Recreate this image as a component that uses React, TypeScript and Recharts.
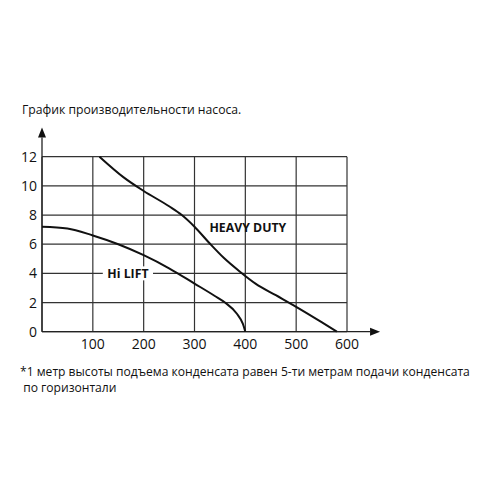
import React from "react";
import {
  ComposedChart,
  Line,
  XAxis,
  YAxis,
  CartesianGrid,
  ReferenceLine,
  ReferenceDot,
} from "recharts";

const flowTicks = [100, 200, 300, 400, 500, 600];
const headTicks = [0, 2, 4, 6, 8, 10, 12];

const hiLiftFlow = [0, 50, 100, 150, 200, 250, 300, 340, 360, 383, 395, 400];
const hiLiftHead = [7.2, 7.08, 6.6, 6.0, 5.25, 4.35, 3.3, 2.45, 2.0, 1.25, 0.55, 0];

const heavyFlow = [113, 160, 200, 250, 275, 300, 330, 358, 390, 420, 460, 500, 550, 580];
const heavyHead = [12, 10.6, 9.65, 8.6, 8.0, 7.2, 6.05, 5.05, 4.1, 3.3, 2.5, 1.7, 0.65, 0];

// series labels: name, flow, head where the text sits
const labelNames = ["HEAVY DUTY", "Hi LIFT"];
const labelFlow = [405, 169];
const labelHead = [7.15, 4];

const hiLift = hiLiftFlow.map((f, i) => ({ flow: f, head: hiLiftHead[i] }));
const heavy = heavyFlow.map((f, i) => ({ flow: f, head: heavyHead[i] }));

const font = "'Open Sans', sans-serif";

const Arrow = (props: any) => {
  const { x1, y1, x2, y2 } = props;
  const dx = x2 - x1;
  const dy = y2 - y1;
  const len = Math.sqrt(dx * dx + dy * dy) || 1;
  const ux = dx / len;
  const uy = dy / len;
  const head = 10;
  const half = 4;
  const bx = x2 - ux * head;
  const by = y2 - uy * head;
  const pts = [
    [x2, y2],
    [bx - uy * half, by + ux * half],
    [bx + uy * half, by - ux * half],
  ]
    .map((p) => p.join(","))
    .join(" ");
  return (
    <g>
      <line x1={x1} y1={y1} x2={bx} y2={by} stroke="#222" strokeWidth={1.3} />
      <polygon points={pts} fill="#111" />
    </g>
  );
};

const makeLabel = (text: string, halo: boolean) => (props: any) => {
  const { cx, cy } = props;
  const w = text.length * 6.6;
  return (
    <g>
      {halo && <rect x={cx - w / 2 - 2} y={cy - 7} width={w + 4} height={14} fill="#fff" />}
      <text
        x={cx}
        y={cy}
        dy="0.36em"
        textAnchor="middle"
        fontFamily={font}
        fontWeight={700}
        fontSize={12.3}
        fill="#111"
      >
        {text}
      </text>
    </g>
  );
};

export default function App() {
  return (
    <div
      style={{
        position: "fixed",
        left: 0,
        top: 0,
        width: 500,
        height: 500,
        background: "#fff",
        fontFamily: font,
        color: "#111",
      }}
    >
      <div style={{ position: "absolute", left: 22, top: 101, fontSize: 12.2 }}>
        График производительности насоса.
      </div>
      <div style={{ position: "absolute", left: 0, top: 0 }}>
        <ComposedChart
          width={500}
          height={500}
          margin={{ top: 156.7, right: 153, bottom: 138.3, left: 6 }}
        >
          <CartesianGrid stroke="#333" strokeWidth={1.2} />
          <XAxis
            type="number"
            dataKey="flow"
            domain={[0, 600]}
            ticks={flowTicks}
            axisLine={false}
            tickLine={false}
            tickMargin={1}
            height={30}
            tick={{ fill: "#111", fontSize: 14, fontFamily: font }}
            allowDuplicatedCategory={false}
          />
          <YAxis
            type="number"
            domain={[0, 12]}
            ticks={headTicks}
            axisLine={false}
            tickLine={false}
            tickSize={5}
            tickMargin={0}
            width={36}
            tick={{ fill: "#111", fontSize: 14, fontFamily: font }}
          />
          <ReferenceLine
            segment={[
              { x: 0, y: 0 },
              { x: 665, y: 0 },
            ]}
            ifOverflow="visible"
            shape={Arrow}
          />
          <ReferenceLine
            segment={[
              { x: 0, y: 0 },
              { x: 0, y: 14 },
            ]}
            ifOverflow="visible"
            shape={Arrow}
          />
          <Line
            data={hiLift}
            dataKey="head"
            type="monotone"
            stroke="#111"
            strokeWidth={2}
            dot={false}
            isAnimationActive={false}
          />
          <Line
            data={heavy}
            dataKey="head"
            type="monotone"
            stroke="#111"
            strokeWidth={2}
            dot={false}
            isAnimationActive={false}
          />
          {labelNames.map((name, i) => (
            <ReferenceDot
              key={name}
              x={labelFlow[i]}
              y={labelHead[i]}
              r={1}
              ifOverflow="visible"
              shape={makeLabel(name, i === 1)}
            />
          ))}
        </ComposedChart>
      </div>
      <div style={{ position: "absolute", left: 20, top: 364, fontSize: 12.1, lineHeight: "16px" }}>
        *1 метр высоты подъема конденсата равен 5-ти метрам подачи конденсата
        <br />
        &nbsp;по горизонтали
      </div>
    </div>
  );
}
